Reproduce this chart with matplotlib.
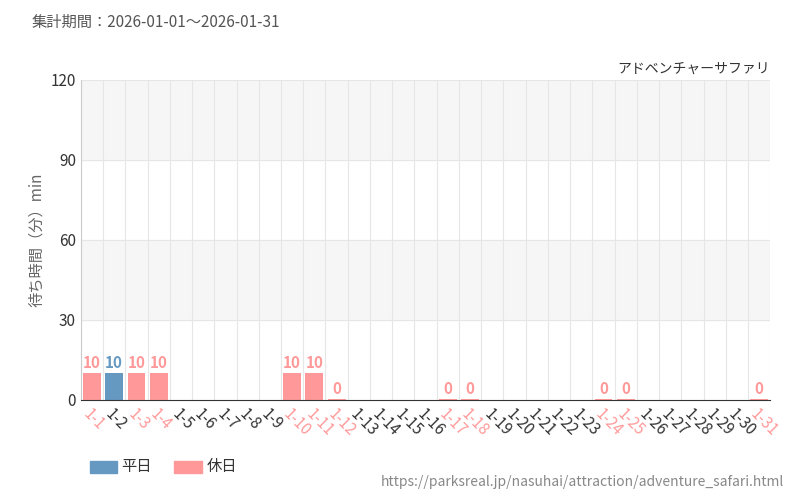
import matplotlib
matplotlib.use("Agg")
import matplotlib.pyplot as plt
import numpy as np

plt.rcParams['font.family'] = ['Noto Sans CJK JP', 'DejaVu Sans']

days = [f"1-{d}" for d in range(1, 32)]
holidays = ["1-1", "1-3", "1-4", "1-10", "1-11", "1-12", "1-17", "1-18", "1-24", "1-25", "1-31"]
# waiting time (min); None = no data
waits = {"1-1": 10, "1-2": 10, "1-3": 10, "1-4": 10, "1-10": 10, "1-11": 10,
         "1-12": 0, "1-17": 0, "1-18": 0, "1-24": 0, "1-25": 0, "1-31": 0}

WEEKDAY = "#6699c2"
HOLIDAY = "#ff9999"

fig = plt.figure(figsize=(8, 5), dpi=100)
ax = fig.add_axes([0.101, 0.2, 0.862, 0.64])

x = np.arange(len(days))
ax.set_xlim(-0.5, len(days) - 0.5)
ax.set_ylim(0, 120)
for lo in (30, 90):
    ax.axhspan(lo, lo + 30, color="#f6f6f6", zorder=0)
for yv in (30, 60, 90, 120):
    ax.axhline(yv, color="#e6e6e6", lw=0.8, zorder=1)
for xv in np.arange(-0.5, len(days)):
    ax.axvline(xv, color="#e6e6e6", lw=0.8, zorder=1)

for i, d in enumerate(days):
    if d not in waits:
        continue
    v = waits[d]
    c = HOLIDAY if d in holidays else WEEKDAY
    ax.bar(i, max(v, 0.4), width=0.8, color=c, zorder=2)
    ax.text(i, v + 1, str(v), ha="center", va="bottom", color=c,
            fontsize=11, fontweight="bold", zorder=3)

ax.set_yticks([0, 30, 60, 90, 120])
ax.set_xticks(x)
ax.set_xticklabels(days, rotation=-45, ha="left", rotation_mode="anchor", fontsize=11)
for lab, d in zip(ax.get_xticklabels(), days):
    lab.set_color(HOLIDAY if d in holidays else "#333333")
ax.tick_params(axis="y", labelsize=11, colors="#333333", length=0)
ax.tick_params(axis="x", length=0, pad=4)
for s in ("top", "right"):
    ax.spines[s].set_visible(False)
ax.spines["left"].set_color("#cccccc")
ax.spines["bottom"].set_color("#333333")
ax.set_ylabel("待ち時間（分）min", color="#666666", fontsize=11)

fig.text(0.04, 0.955, "集計期間：2026-01-01～2026-01-31", fontsize=11, color="#555555", va="center")
fig.text(0.962, 0.862, "アドベンチャーサファリ", fontsize=10, color="#333333", ha="right", va="center")
fig.text(0.98, 0.036, "https://parksreal.jp/nasuhai/attraction/adventure_safari.html",
         fontsize=10, color="#888888", ha="right", va="center")

fig.patches.append(plt.Rectangle((0.112, 0.055), 0.034, 0.024, color=WEEKDAY, transform=fig.transFigure))
fig.text(0.152, 0.067, "平日", fontsize=11, color="#333333", va="center")
fig.patches.append(plt.Rectangle((0.218, 0.055), 0.034, 0.024, color=HOLIDAY, transform=fig.transFigure))
fig.text(0.258, 0.067, "休日", fontsize=11, color="#333333", va="center")

fig.savefig("out.png")
